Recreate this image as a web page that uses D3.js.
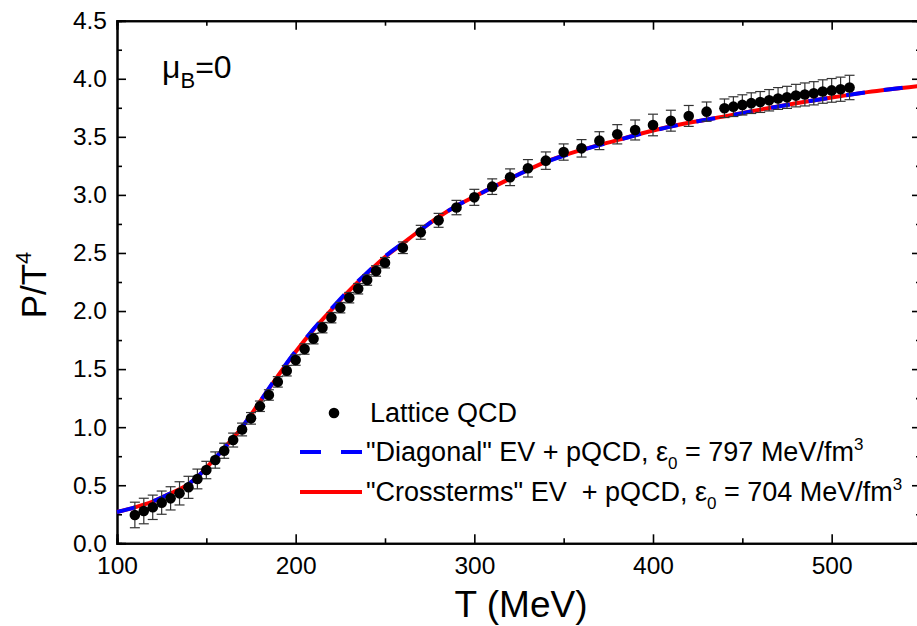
<!DOCTYPE html>
<html>
<head>
<meta charset="utf-8">
<script src="https://cdn.jsdelivr.net/npm/d3@7/dist/d3.min.js"></script>
<style>
  body { margin: 0; background: #fff; }
  svg { display: block; font-family: "Liberation Sans", Arial, sans-serif; }
</style>
</head>
<body>
<svg id="chart" width="917" height="626"></svg>
<script>
// Lattice QCD pressure (P/T^4) at mu_B = 0
const latticeT = [110,115,120,125,130,135,140,145,150,155,160,165,170,175,180,185,190,195,200,205,210,215,220,225,230,235,240,245,250,
  260,270,280,290,300,310,320,330,340,350,360,370,380,390,400,410,420,430,440,
  445,450,455,460,465,470,475,480,485,490,495,500,505,510];
const latticeP = [0.244,0.278,0.31,0.35,0.387,0.43,0.482,0.554,0.631,0.717,0.797,0.889,0.98,1.076,1.18,1.277,1.39,1.486,1.578,1.673,1.762,1.857,1.943,2.029,2.115,2.192,2.267,2.345,2.416,
  2.545,2.678,2.781,2.891,2.979,3.071,3.152,3.229,3.295,3.369,3.401,3.467,3.522,3.559,3.602,3.639,3.68,3.717,3.746,
  3.76,3.775,3.79,3.80,3.815,3.83,3.84,3.855,3.865,3.875,3.89,3.90,3.91,3.925];
const latticeErr = [0.11,0.11,0.105,0.1,0.1,0.1,0.095,0.085,0.075,0.07,0.065,0.06,0.055,0.05,0.045,0.045,0.045,0.045,0.045,0.045,0.045,0.045,0.045,0.045,0.045,0.045,0.045,0.045,0.045,
  0.05,0.06,0.06,0.062,0.069,0.067,0.072,0.075,0.075,0.07,0.075,0.077,0.083,0.086,0.093,0.09,0.09,0.083,0.08,
  0.085,0.087,0.089,0.09,0.092,0.094,0.095,0.097,0.099,0.1,0.101,0.102,0.104,0.105];

// Model curves: excluded volume HRG + pQCD
const modelT = [100,110,120,130,140,145,150,160,170,180,190,200,210,220,230,240,250,260,270,280,290,300,320,340,360,380,400,420,440,460,480,500,520,550];
const diagonalP = [0.27,0.31,0.36,0.43,0.51,0.57,0.65,0.82,1.0,1.22,1.445,1.655,1.845,2.02,2.185,2.33,2.47,2.585,2.70,2.81,2.905,2.985,3.14,3.282,3.385,3.47,3.553,3.62,3.675,3.733,3.788,3.838,3.884,3.94];
const crosstermsP = [0.27,0.31,0.36,0.43,0.51,0.57,0.65,0.82,1.0,1.22,1.44,1.65,1.84,2.01,2.175,2.325,2.465,2.583,2.70,2.81,2.905,2.985,3.14,3.285,3.387,3.472,3.555,3.621,3.676,3.734,3.789,3.839,3.885,3.94];

const xTicks = [100,200,300,400,500];
const yTicks = [0,0.5,1,1.5,2,2.5,3,3.5,4,4.5];

const svg = d3.select("#chart");
const x = d3.scaleLinear().domain([100, 550]).range([117, 921]);
const y = d3.scaleLinear().domain([0, 4.5]).range([543.3, 20.7]);

const xMinor = d3.range(150, 551, 100);
const yMinor = d3.range(0.25, 4.5, 0.5);

// frame with mirrored inward ticks
function axisGroup(axis, transform) {
  const g = svg.append("g").attr("transform", transform).call(axis);
  g.select(".domain").attr("stroke", "#000").attr("stroke-width", 2);
  g.selectAll(".tick line").attr("stroke", "#000").attr("stroke-width", 1.6);
  g.selectAll(".tick text").attr("font-size", 24.5).attr("fill", "#000")
    .attr("font-family", "'Liberation Sans', Arial, sans-serif");
  return g;
}
// minor ticks
axisGroup(d3.axisBottom(x).tickValues(xMinor).tickSize(-5).tickFormat(""), `translate(0,${y(0)})`);
axisGroup(d3.axisTop(x).tickValues(xMinor).tickSize(-5).tickFormat(""), `translate(0,${y(4.5)})`);
axisGroup(d3.axisLeft(y).tickValues(yMinor).tickSize(-5).tickFormat(""), `translate(${x(100)},0)`);
axisGroup(d3.axisRight(y).tickValues(yMinor).tickSize(-5).tickFormat(""), `translate(${x(550)},0)`);
// major ticks
axisGroup(d3.axisBottom(x).tickValues(xTicks).tickSize(-9).tickPadding(13).tickFormat(d3.format("d")), `translate(0,${y(0)})`);
axisGroup(d3.axisTop(x).tickValues(xTicks).tickSize(-9).tickFormat(""), `translate(0,${y(4.5)})`);
axisGroup(d3.axisLeft(y).tickValues(yTicks).tickSize(-9).tickPadding(10).tickFormat(d3.format(".1f")), `translate(${x(100)},0)`);
axisGroup(d3.axisRight(y).tickValues(yTicks).tickSize(-9).tickFormat(""), `translate(${x(550)},0)`);

// model curves
const line = d3.line().x(d => x(d[0])).y(d => y(d[1])).curve(d3.curveMonotoneX);
svg.append("path").datum(modelT.map((t, i) => [t, crosstermsP[i]]))
  .attr("d", line).attr("fill", "none").attr("stroke", "#ff0000").attr("stroke-width", 4);
svg.append("path").datum(modelT.map((t, i) => [t, diagonalP[i]]))
  .attr("d", line).attr("fill", "none").attr("stroke", "#0000ff").attr("stroke-width", 4)
  .attr("stroke-dasharray", "19,19");

// lattice points with error bars
const pts = latticeT.map((t, i) => ({ t, p: latticeP[i], e: latticeErr[i] }));
const eb = svg.append("g").attr("stroke", "#333").attr("stroke-width", 1.2);
pts.forEach(d => {
  const cx = x(d.t), y1 = y(d.p + d.e), y2 = y(d.p - d.e);
  eb.append("line").attr("x1", cx).attr("x2", cx).attr("y1", y1).attr("y2", y2);
  eb.append("line").attr("x1", cx - 5).attr("x2", cx + 5).attr("y1", y1).attr("y2", y1);
  eb.append("line").attr("x1", cx - 5).attr("x2", cx + 5).attr("y1", y2).attr("y2", y2);
});
svg.append("g").selectAll("circle").data(pts).join("circle")
  .attr("cx", d => x(d.t)).attr("cy", d => y(d.p)).attr("r", 5.3).attr("fill", "#000");

// axis titles
svg.append("text").attr("x", 521).attr("y", 617).attr("text-anchor", "middle")
  .attr("font-size", 37).text("T (MeV)");
const yt = svg.append("text").attr("transform", "translate(46,285) rotate(-90)")
  .attr("text-anchor", "middle").attr("font-size", 35);
yt.append("tspan").text("P/T");
yt.append("tspan").attr("font-size", 22).attr("dy", -15).text("4");

// mu_B label
const mu = svg.append("text").attr("x", 162).attr("y", 78).attr("font-size", 32);
mu.append("tspan").text("μ");
mu.append("tspan").attr("font-size", 22).attr("dy", 10).text("B");
mu.append("tspan").attr("dy", -10).text("=0");

// legend
const lg = svg.append("g").attr("font-size", 27);
lg.append("circle").attr("cx", 334).attr("cy", 413).attr("r", 5.3).attr("fill", "#000");
lg.append("text").attr("x", 370).attr("y", 422).text("Lattice QCD");
lg.append("line").attr("x1", 300).attr("x2", 362).attr("y1", 452).attr("y2", 452)
  .attr("stroke", "#0000ff").attr("stroke-width", 4).attr("stroke-dasharray", "21,20");
const t2 = lg.append("text").attr("x", 366).attr("y", 461).style("white-space", "pre");
t2.append("tspan").text("\"Diagonal\" EV + pQCD, ε");
t2.append("tspan").attr("font-size", 17).attr("dy", 8).text("0");
t2.append("tspan").attr("dy", -8).text(" = 797 MeV/fm");
t2.append("tspan").attr("font-size", 17).attr("dy", -11).text("3");
lg.append("line").attr("x1", 300).attr("x2", 362).attr("y1", 492).attr("y2", 492)
  .attr("stroke", "#ff0000").attr("stroke-width", 4);
const t3 = lg.append("text").attr("x", 366).attr("y", 501).style("white-space", "pre");
t3.append("tspan").text("\"Crossterms\" EV  + pQCD, ε");
t3.append("tspan").attr("font-size", 17).attr("dy", 8).text("0");
t3.append("tspan").attr("dy", -8).text(" = 704 MeV/fm");
t3.append("tspan").attr("font-size", 17).attr("dy", -11).text("3");
</script>
</body>
</html>
